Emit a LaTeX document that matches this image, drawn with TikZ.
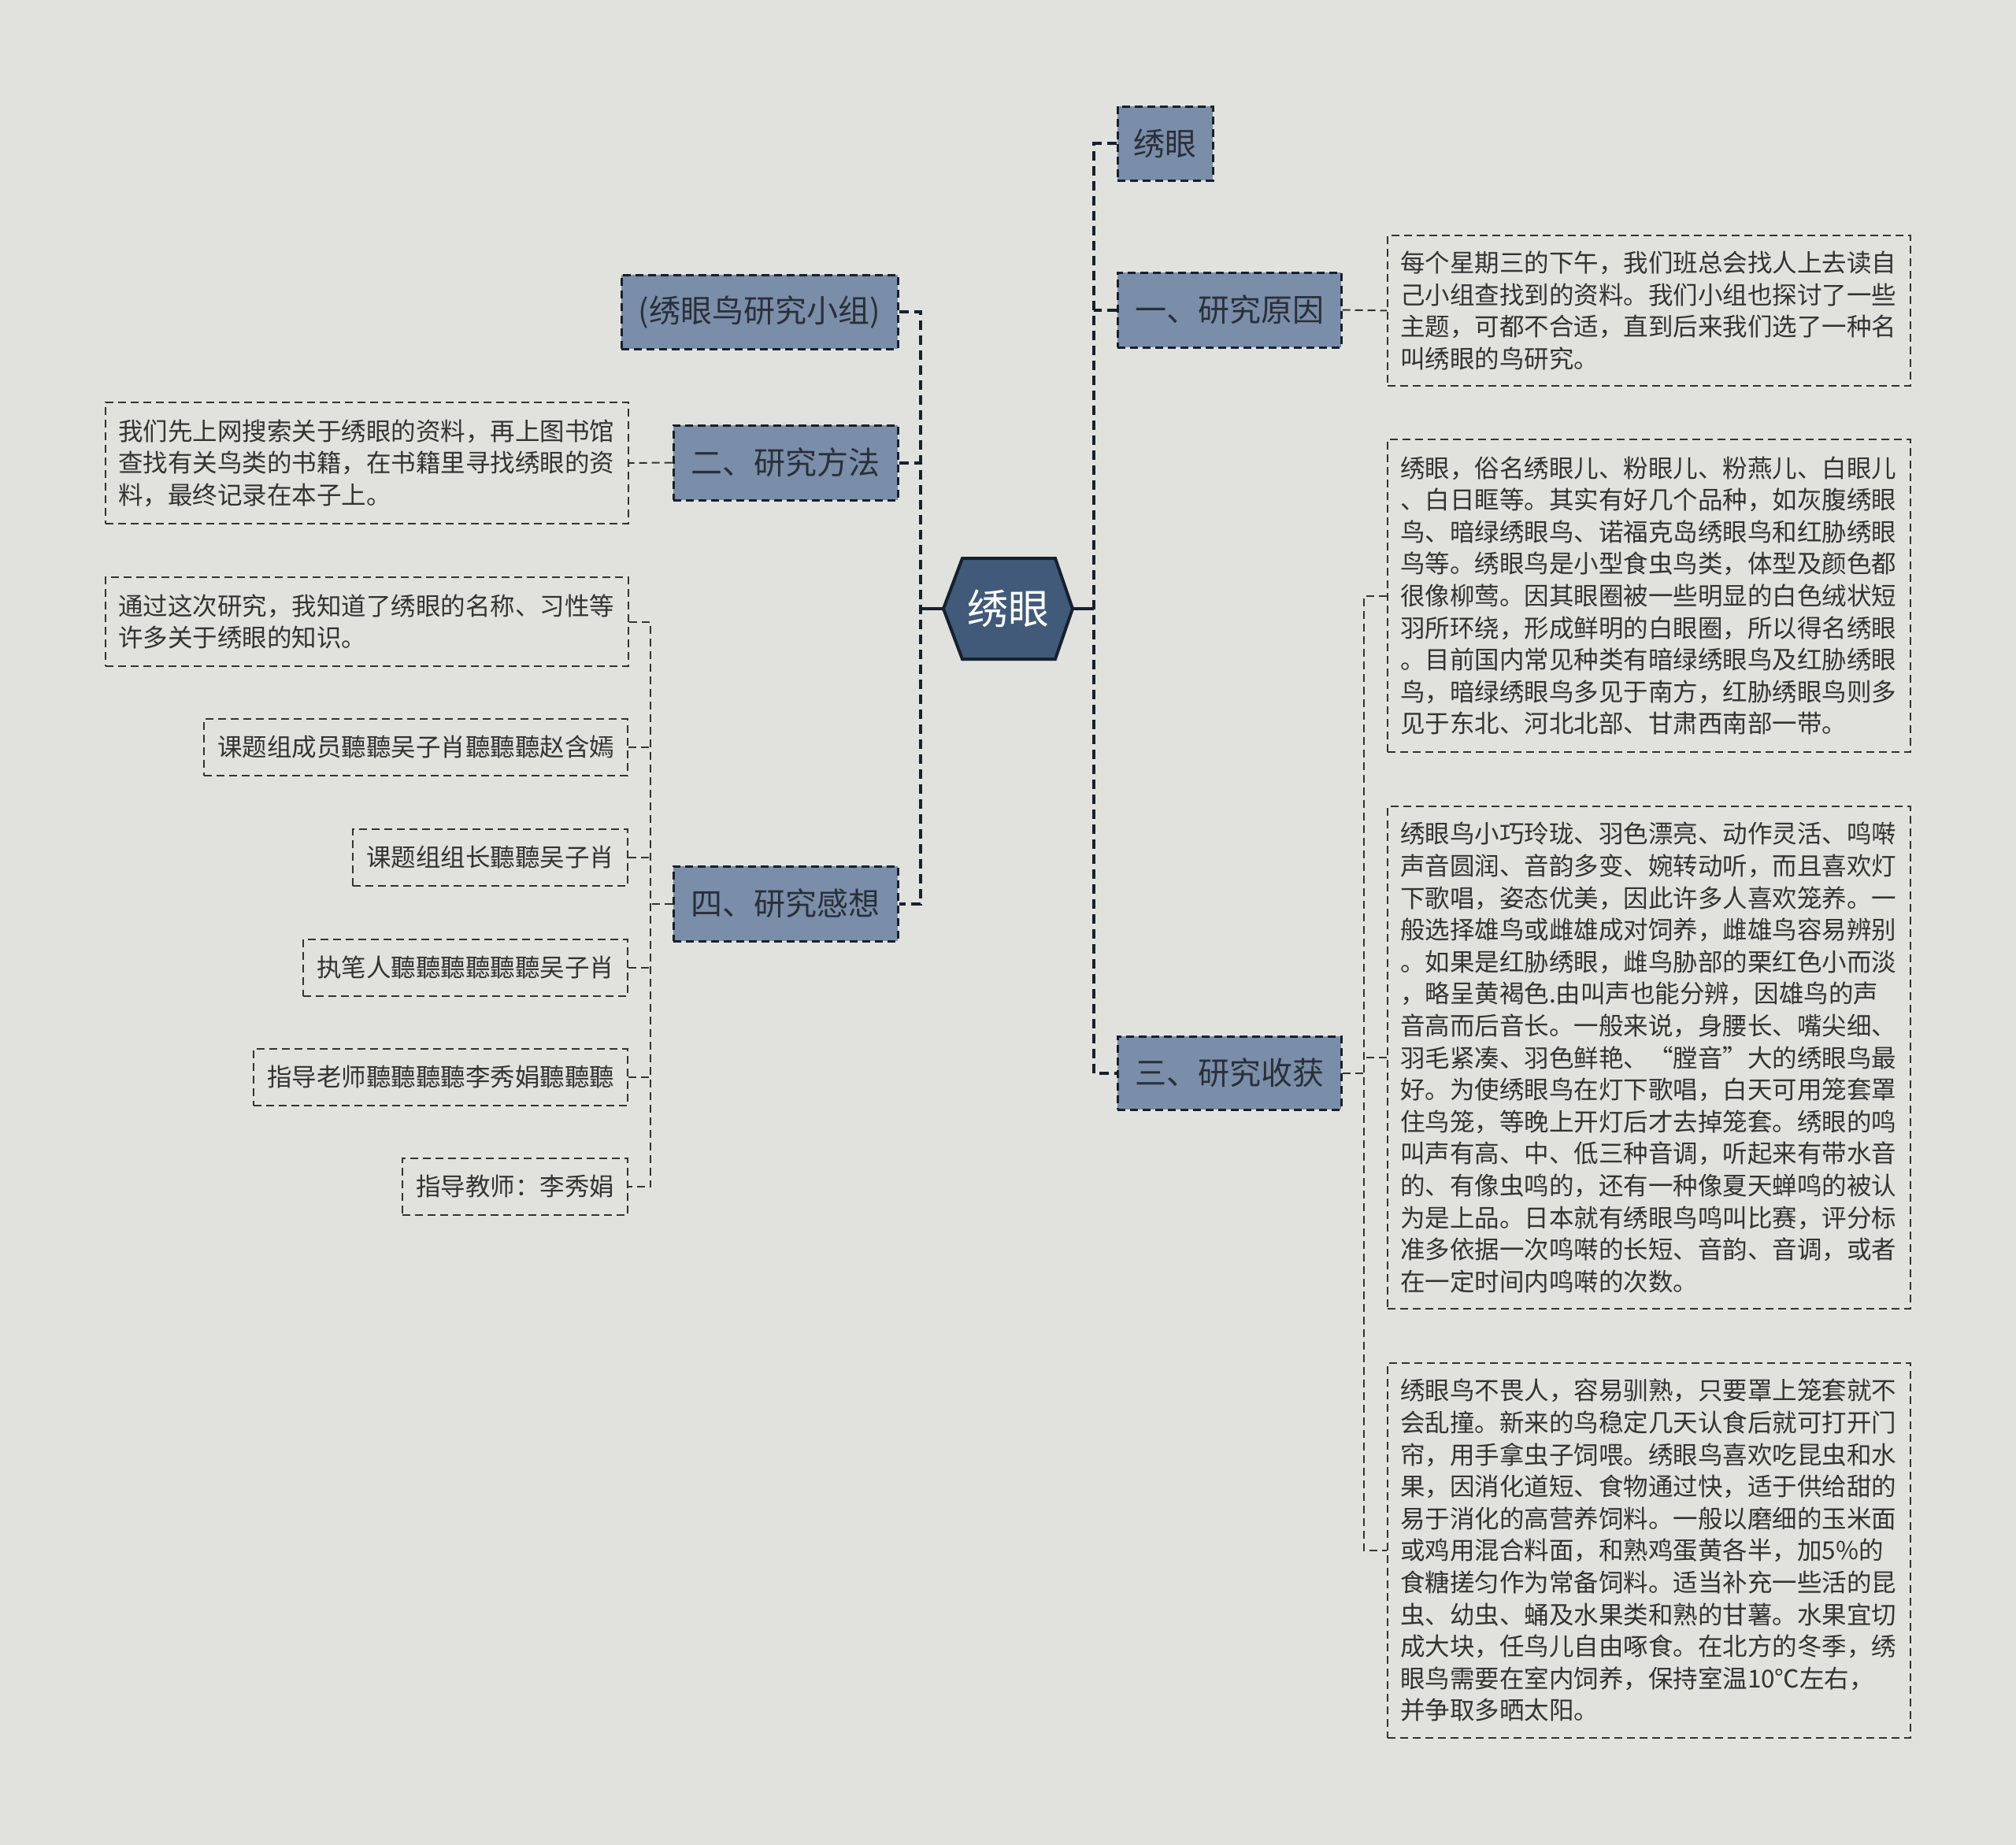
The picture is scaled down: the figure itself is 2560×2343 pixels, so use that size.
\documentclass[tikz,border=0pt]{standalone}
\usepackage{fontspec}
\setmainfont{Noto Sans CJK SC}
\definecolor{bgC}{HTML}{E1E2DE}
\definecolor{nodeC}{HTML}{7A8EAA}
\definecolor{rootC}{HTML}{415A7A}
\definecolor{rootB}{HTML}{16212F}
\definecolor{lineC}{HTML}{18202C}
\definecolor{txtC}{HTML}{2A2F38}
\definecolor{leafT}{HTML}{333333}
\tikzset{
  lvlone/.style={draw=lineC, fill=nodeC, line width=3pt, dash pattern=on 10pt off 6pt,
    text=txtC, font=\fontsize{40}{48}\selectfont, inner sep=0pt},
  leafbox/.style={draw=leafT, line width=2pt, dash pattern=on 10pt off 6pt,
    text=leafT, font=\fontsize{31.5}{40.6}\selectfont, align=left, inner xsep=16pt, inner ysep=0pt},
  leafone/.style={draw=leafT, line width=2pt, dash pattern=on 10pt off 6pt,
    text=leafT, font=\fontsize{31.5}{40.6}\selectfont, inner xsep=17pt, inner ysep=0pt,
    minimum height=72pt, anchor=east},
  trunk/.style={draw=lineC, line width=4pt, dash pattern=on 12pt off 7pt},
  solidc/.style={draw=lineC, line width=4pt},
  leafline/.style={draw=leafT, line width=2pt, dash pattern=on 10pt off 6pt},
}
\begin{document}
\begin{tikzpicture}[x=1pt,y=-1pt]
\useasboundingbox (0,0) rectangle (2560,2343);
\fill[bgC] (0,0) rectangle (2560,2343);

% root
\fill[rootC, draw=rootB, line width=4pt, line join=miter]
  (1198,773) -- (1222,709) -- (1340,709) -- (1362,773) -- (1340,837) -- (1222,837) -- cycle;
\node[text=white, font=\fontsize{52}{60}\selectfont, minimum width=164pt, minimum height=128pt, inner sep=0pt] (root) at (1280,773) {绣眼};

% level one right
\node[lvlone, minimum width=121pt, minimum height=94pt] (xy) at (1479.5,182) {绣眼};
\node[lvlone, minimum width=284pt, minimum height=95pt] (reason) at (1561,393.5) {一、研究原因};
\node[lvlone, minimum width=284pt, minimum height=93pt] (harvest) at (1561,1362.5) {三、研究收获};

% level one left
\node[lvlone, minimum width=351pt, minimum height=94pt] (group) at (964.5,396) {(绣眼鸟研究小组)};
\node[lvlone, minimum width=285pt, minimum height=95pt] (method) at (997.5,587.5) {二、研究方法};
\node[lvlone, minimum width=285pt, minimum height=95pt] (feel) at (997.5,1147.5) {四、研究感想};

% right leaves
\node[leafbox, minimum width=664pt, minimum height=191pt, text width=632pt] (rb1) at (2094,394.5) {每个星期三的下午，我们班总会找人上去读自\\己小组查找到的资料。我们小组也探讨了一些\\主题，可都不合适，直到后来我们选了一种名\\叫绣眼的鸟研究。};
\node[leafbox, minimum width=664pt, minimum height=397pt, text width=632pt] (rb2) at (2094,756.5) {绣眼，俗名绣眼儿、粉眼儿、粉燕儿、白眼儿\\、白日眶等。其实有好几个品种，如灰腹绣眼\\鸟、暗绿绣眼鸟、诺福克岛绣眼鸟和红胁绣眼\\鸟等。绣眼鸟是小型食虫鸟类，体型及颜色都\\很像柳莺。因其眼圈被一些明显的白色绒状短\\羽所环绕，形成鲜明的白眼圈，所以得名绣眼\\。目前国内常见种类有暗绿绣眼鸟及红胁绣眼\\鸟，暗绿绣眼鸟多见于南方，红胁绣眼鸟则多\\见于东北、河北北部、甘肃西南部一带。};
\node[leafbox, minimum width=664pt, minimum height=638pt, text width=632pt] (rb3) at (2094,1343) {绣眼鸟小巧玲珑、羽色漂亮、动作灵活、鸣啭\\声音圆润、音韵多变、婉转动听，而且喜欢灯\\下歌唱，姿态优美，因此许多人喜欢笼养。一\\般选择雄鸟或雌雄成对饲养，雌雄鸟容易辨别\\。如果是红胁绣眼，雌鸟胁部的栗红色小而淡\\，略呈黄褐色.由叫声也能分辨，因雄鸟的声\\音高而后音长。一般来说，身腰长、嘴尖细、\\羽毛紧凑、羽色鲜艳、“膛音”大的绣眼鸟最\\好。为使绣眼鸟在灯下歌唱，白天可用笼套罩\\住鸟笼，等晚上开灯后才去掉笼套。绣眼的鸣\\叫声有高、中、低三种音调，听起来有带水音\\的、有像虫鸣的，还有一种像夏天蝉鸣的被认\\为是上品。日本就有绣眼鸟鸣叫比赛，评分标\\准多依据一次鸣啭的长短、音韵、音调，或者\\在一定时间内鸣啭的次数。};
\node[leafbox, minimum width=664pt, minimum height=476pt, text width=632pt] (rb4) at (2094,1969) {绣眼鸟不畏人，容易驯熟，只要罩上笼套就不\\会乱撞。新来的鸟稳定几天认食后就可打开门\\帘，用手拿虫子饲喂。绣眼鸟喜欢吃昆虫和水\\果，因消化道短、食物通过快，适于供给甜的\\易于消化的高营养饲料。一般以磨细的玉米面\\或鸡用混合料面，和熟鸡蛋黄各半，加5\%的\\食糖搓匀作为常备饲料。适当补充一些活的昆\\虫、幼虫、蛹及水果类和熟的甘薯。水果宜切\\成大块，任鸟儿自由啄食。在北方的冬季，绣\\眼鸟需要在室内饲养，保持室温10℃左右，\\并争取多晒太阳。};

% left leaves
\node[leafbox, minimum width=664pt, minimum height=154pt, text width=632pt] (ml) at (466,588) {我们先上网搜索关于绣眼的资料，再上图书馆\\查找有关鸟类的书籍，在书籍里寻找绣眼的资\\料，最终记录在本子上。};
\node[leafbox, minimum width=664pt, minimum height=113pt, text width=632pt] (f1) at (466,789.5) {通过这次研究，我知道了绣眼的名称、习性等\\许多关于绣眼的知识。};
\node[leafone, minimum width=537pt] (f2) at (798,949) {课题组成员聽聽吴子肖聽聽聽赵含嫣};
\node[leafone, minimum width=347pt] (f3) at (798,1089) {课题组组长聽聽吴子肖};
\node[leafone, minimum width=411pt] (f4) at (798,1228.5) {执笔人聽聽聽聽聽聽吴子肖};
\node[leafone, minimum width=475pt] (f5) at (798,1368) {指导老师聽聽聽聽李秀娟聽聽聽};
\node[leafone, minimum width=285pt] (f6) at (798,1507) {指导教师：李秀娟};

% trunk coordinates
\coordinate (rtr) at (1389,773);
\coordinate (ltr) at (1169,773);
\coordinate (htr) at (1732,1362);
\coordinate (ftr) at (826,1148);

% root connectors
\draw[solidc] (root.east) -- (rtr);
\draw[solidc] (root.west) -- (ltr);
\draw[trunk] (xy.west) -| (rtr) |- (harvest.west);
\draw[trunk] (reason.west) -- (reason.west -| rtr);
\draw[trunk] (group.east) -| (ltr) |- (feel.east);
\draw[trunk] (method.east) -- (method.east -| ltr);

% leaf connectors
\draw[leafline] (reason.east) -- (rb1.west);
\draw[leafline] (harvest.east) -- (harvest.east -| htr);
\draw[leafline] (rb2.west) -| (htr) |- (rb4.west);
\draw[leafline] (rb3.west) -- (rb3.west -| htr);
\draw[leafline] (method.west) -- (ml.east);
\draw[leafline] (feel.west) -- (feel.west -| ftr);
\draw[leafline] (f1.east) -| (ftr) |- (f6.east);
\draw[leafline] (f2.east) -- (f2.east -| ftr);
\draw[leafline] (f3.east) -- (f3.east -| ftr);
\draw[leafline] (f4.east) -- (f4.east -| ftr);
\draw[leafline] (f5.east) -- (f5.east -| ftr);
\end{tikzpicture}
\end{document}
